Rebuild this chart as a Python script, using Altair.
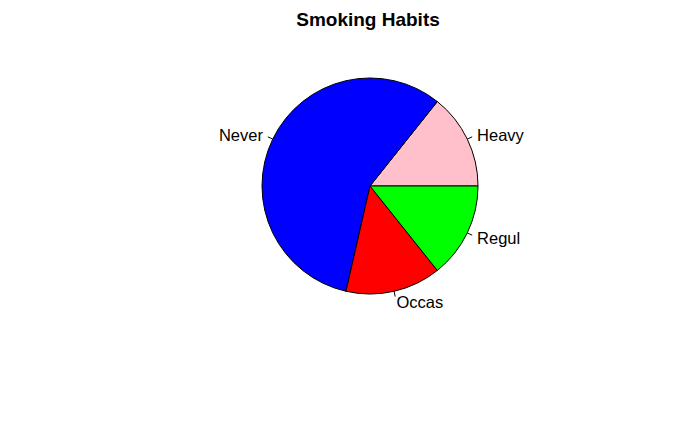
import math
import altair as alt
import pandas as pd

labels = ["Heavy", "Never", "Occas", "Regul"]
counts = [1, 4, 1, 1]
colors = ["#FFC0CB", "#0000FF", "#FF0000", "#00FF00"]
title_text = "Smoking Habits"

W, H = 684, 416
CX, CY, R = 362, 178, 108

df = pd.DataFrame({"label": labels, "count": counts, "idx": list(range(len(labels)))})

base = alt.Chart(df).transform_window(
    cum="sum(count)", sort=[alt.SortField("idx")], frame=[None, 0]
).transform_joinaggregate(
    total="sum(count)"
).transform_calculate(
    a0="2*PI*(datum.cum - datum.count)/datum.total",
    a1="2*PI*datum.cum/datum.total",
).transform_calculate(
    amid="(datum.a0 + datum.a1)/2",
    t1="PI/2 - datum.a1",
    t2="PI/2 - datum.a0",
).transform_calculate(
    x1=f"{CX} + {R}*cos(datum.amid)",
    y1=f"{CY} - {R}*sin(datum.amid)",
    x2=f"{CX} + {1.05*R}*cos(datum.amid)",
    y2=f"{CY} - {1.05*R}*sin(datum.amid)",
    lx=f"{CX} + {1.1*R}*cos(datum.amid)",
    ly=f"{CY} - {1.1*R}*sin(datum.amid)",
    right="cos(datum.amid) > 0",
)

xs = alt.Scale(domain=[0, W])
ys = alt.Scale(domain=[H, 0])

pie = base.mark_arc(stroke="black", strokeWidth=1, radius=R).encode(
    theta=alt.Theta("t1:Q", scale=None),
    theta2="t2:Q",
    x=alt.value(CX),
    y=alt.value(CY),
    color=alt.Color("label:N", scale=alt.Scale(domain=labels, range=colors), legend=None),
)

ticks = base.mark_rule(color="black", strokeWidth=1).encode(
    x=alt.X("x1:Q", scale=xs, axis=None),
    y=alt.Y("y1:Q", scale=ys, axis=None),
    x2="x2:Q",
    y2="y2:Q",
)

txt_left = base.transform_filter("datum.right").mark_text(
    align="left", baseline="middle", fontSize=16.5, font="Liberation Sans", color="black", dy=1.5
).encode(
    x=alt.X("lx:Q", scale=xs, axis=None),
    y=alt.Y("ly:Q", scale=ys, axis=None),
    text="label:N",
)

txt_right = base.transform_filter("!datum.right").mark_text(
    align="right", baseline="middle", fontSize=16.5, font="Liberation Sans", color="black", dy=1.5
).encode(
    x=alt.X("lx:Q", scale=xs, axis=None),
    y=alt.Y("ly:Q", scale=ys, axis=None),
    text="label:N",
)

title = alt.Chart(pd.DataFrame({"t": [title_text]})).mark_text(
    align="center", baseline="middle", fontSize=19, fontWeight="bold",
    font="Liberation Sans", color="black"
).encode(
    x=alt.value(360),
    y=alt.value(12),
    text="t:N",
)

chart = alt.layer(pie, ticks, txt_left, txt_right, title).properties(
    width=W, height=H, padding=0, autosize="none", background="white"
).configure_view(stroke=None, strokeWidth=0)

chart.save("out.html", embed_options={"renderer": "svg", "actions": False})
